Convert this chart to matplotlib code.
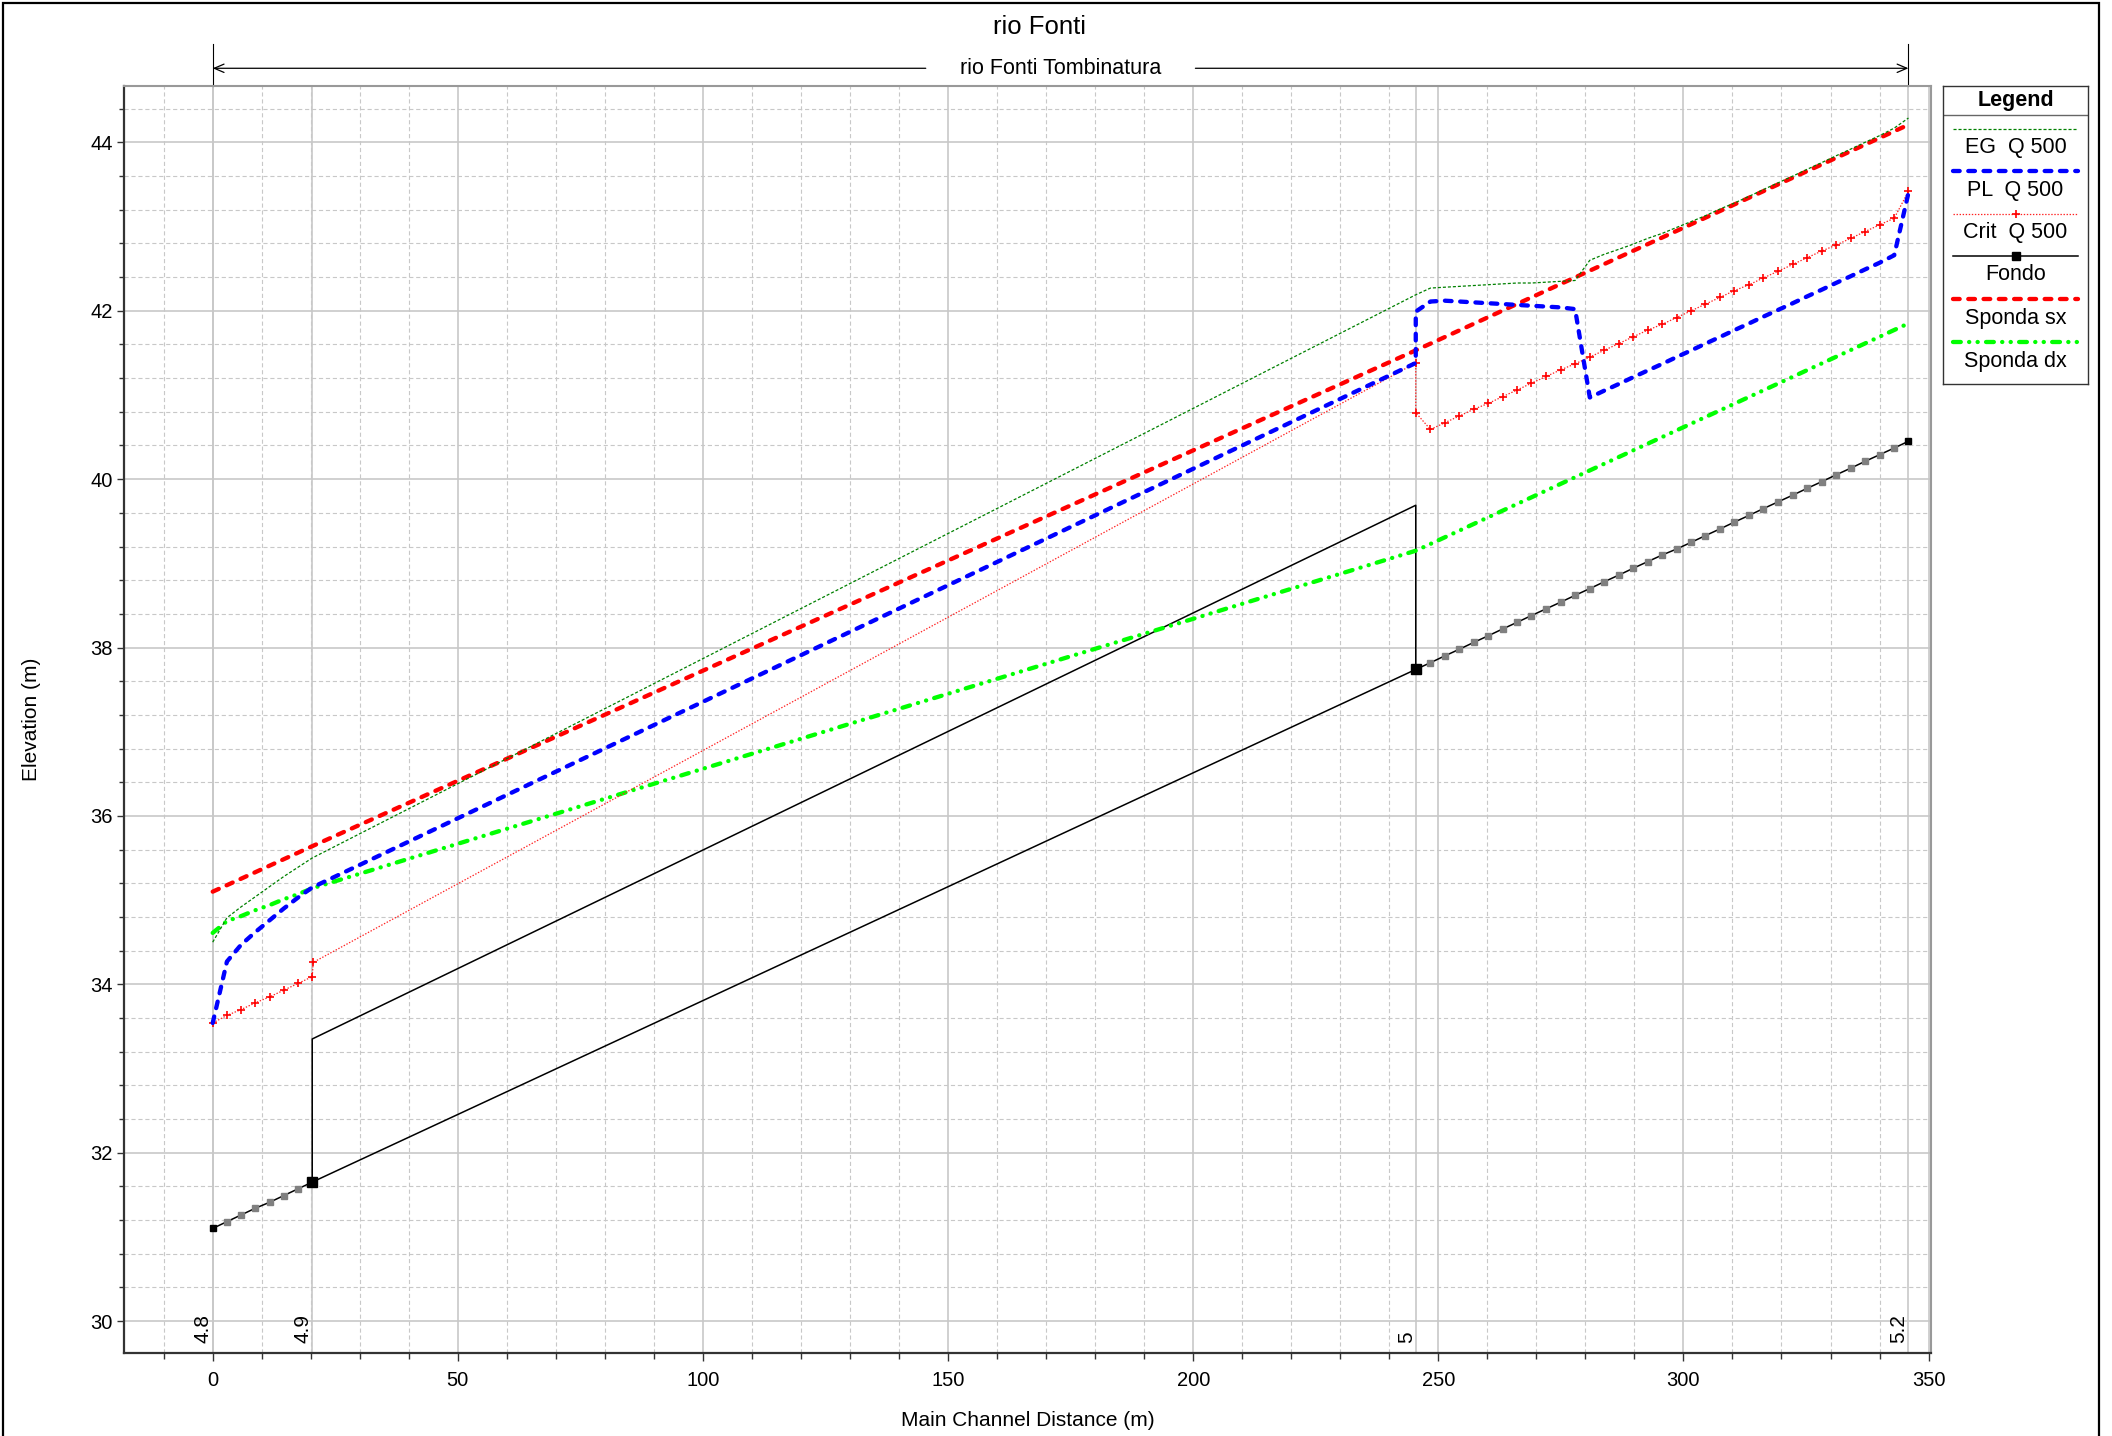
import matplotlib
matplotlib.use('Agg')
import matplotlib.pyplot as plt
from matplotlib.lines import Line2D
from matplotlib.patches import Rectangle
from matplotlib.ticker import MultipleLocator

plt.rcParams['font.family'] = ['Liberation Sans', 'DejaVu Sans']
plt.rcParams['lines.scale_dashes'] = False

# river stations (main channel distance, m)
stations = [0.0, 20.3, 245.4, 345.9]
station_labels = ['4.8', '4.9', '5', '5.2']

# sections upstream reach (4.8 -> 4.9) and downstream reach (5 -> 5.2)
x_reach1 = [0.0, 2.9, 5.8, 8.7, 11.6, 14.5, 17.4, 20.3]
x_reach2 = [245.4, 248.4, 251.3, 254.3, 257.2, 260.2, 263.1, 266.1, 269.0, 272.0,
            275.0, 277.9, 280.9, 283.8, 286.8, 289.7, 292.7, 295.7, 298.6, 301.6,
            304.5, 307.5, 310.4, 313.4, 316.3, 319.3, 322.3, 325.2, 328.2, 331.1,
            334.1, 337.0, 340.0, 343.0, 345.9]

# Fondo
bed_reach1 = [31.10, 31.18, 31.26, 31.34, 31.41, 31.49, 31.57, 31.65]
bed_reach2 = [37.74, 37.82, 37.90, 37.98, 38.06, 38.14, 38.22, 38.30, 38.38, 38.46,
              38.54, 38.62, 38.70, 38.78, 38.86, 38.94, 39.02, 39.10, 39.17, 39.25,
              39.33, 39.41, 39.49, 39.57, 39.65, 39.73, 39.81, 39.89, 39.97, 40.05,
              40.13, 40.21, 40.29, 40.37, 40.45]
culvert_x = [20.3, 20.3, 245.4, 245.4]
culvert_y = [31.65, 33.35, 39.69, 37.74]

# PL Q 500 (water surface)
ws_reach1 = [33.54, 34.27, 34.47, 34.62, 34.76, 34.90, 35.03, 35.15]
ws_culvert_out = 41.38
ws_reach2 = [41.99, 42.11, 42.12, 42.11, 42.10, 42.09, 42.08, 42.07, 42.06, 42.05,
             42.04, 42.02, 40.97, 41.05, 41.13, 41.21, 41.29, 41.37, 41.45, 41.53,
             41.61, 41.69, 41.77, 41.85, 41.93, 42.01, 42.09, 42.17, 42.25, 42.33,
             42.41, 42.49, 42.57, 42.66, 43.40]

# Crit Q 500
crit_reach1 = [33.54, 33.63, 33.70, 33.78, 33.85, 33.93, 34.01, 34.09]
crit_culvert_x = [20.5, 245.4]
crit_culvert = [34.26, 41.38]
crit_reach2 = [40.79, 40.59, 40.67, 40.75, 40.83, 40.90, 40.98, 41.06, 41.14, 41.22,
               41.30, 41.37, 41.45, 41.53, 41.61, 41.69, 41.77, 41.84, 41.92, 42.00,
               42.08, 42.16, 42.24, 42.31, 42.39, 42.47, 42.55, 42.63, 42.71, 42.78,
               42.86, 42.94, 43.02, 43.10, 43.42]

# EG Q 500
eg_reach1 = [34.50, 34.79, 34.92, 35.04, 35.16, 35.28, 35.39, 35.50]
eg_reach2 = [42.19, 42.27, 42.28, 42.29, 42.30, 42.31, 42.32, 42.33, 42.33, 42.34,
             42.35, 42.36, 42.60, 42.67, 42.73, 42.79, 42.86, 42.92, 42.99, 43.06,
             43.13, 43.21, 43.28, 43.36, 43.44, 43.52, 43.60, 43.68, 43.76, 43.84,
             43.92, 44.00, 44.08, 44.17, 44.29]

# banks
sx_bank = [35.10, 35.64, 41.53, 44.21]          # at stations
dx_reach1 = [34.61, 34.75, 34.81, 34.88, 34.94, 35.01, 35.07, 35.14]
dx_x2 = [245.4, 345.9]
dx_reach2 = [39.15, 41.85]

reach_name = 'rio Fonti Tombinatura'

eg_st = dict(color='#008000', lw=0.9, dashes=(2.2, 1.4))
pl_st = dict(color='#0000ff', lw=3.1, dashes=(4.8, 6.2), dash_capstyle='round',
             solid_joinstyle='round')
crit_st = dict(color='#ff2020', lw=0.9, dashes=(1.0, 1.2), marker='+', ms=6,
               mew=1.2, mec='#ff0000')
fondo_st = dict(color='black', lw=1.1)
sx_st = dict(color='#ff0000', lw=3.1, dashes=(4.8, 6.2), dash_capstyle='round')
dx_st = dict(color='#00ff00', lw=3.1, dashes=(5.6, 6.0, 0.1, 6.0, 0.1, 6.0),
             dash_capstyle='round')

fig = plt.figure(figsize=(21.12, 14.36), dpi=100)
ax = fig.add_axes([0.0587, 0.0578, 0.8556, 0.8823])

# grid
ax.set_axisbelow(True)
ax.xaxis.set_major_locator(MultipleLocator(50))
ax.xaxis.set_minor_locator(MultipleLocator(10))
ax.yaxis.set_major_locator(MultipleLocator(2))
ax.yaxis.set_minor_locator(MultipleLocator(0.4))
ax.grid(which='major', color='#c8c8c8', lw=1.2, ls='-')
ax.grid(which='minor', color='#c8c8c8', lw=0.8, ls=(0, (3, 2)))
for s in stations:
    ax.axvline(s, color='#c8c8c8', lw=1.2, zorder=0.6)

# Fondo
ax.plot(x_reach1 + x_reach2, bed_reach1 + bed_reach2, zorder=3, **fondo_st)
ax.plot(culvert_x, culvert_y, zorder=3, **fondo_st)
ax.plot(x_reach1[1:-1], bed_reach1[1:-1], ls='none', marker='s', ms=5,
        color='#808080', zorder=4)
ax.plot(x_reach2[1:-1], bed_reach2[1:-1], ls='none', marker='s', ms=5,
        color='#808080', zorder=4)
ax.plot([x_reach1[0], x_reach2[-1]], [bed_reach1[0], bed_reach2[-1]],
        ls='none', marker='s', ms=5, color='black', zorder=5)
ax.plot([x_reach1[-1], x_reach2[0]], [bed_reach1[-1], bed_reach2[0]],
        ls='none', marker='s', ms=6.5, color='black', zorder=5)

# banks
ax.plot(x_reach1 + dx_x2, dx_reach1 + dx_reach2, zorder=3, **dx_st)
ax.plot(stations, sx_bank, zorder=3, **sx_st)

# crit
ax.plot(x_reach1 + crit_culvert_x + x_reach2,
        crit_reach1 + crit_culvert + crit_reach2, zorder=4, **crit_st)

# water surface
ax.plot(x_reach1 + [x_reach2[0]] + x_reach2,
        ws_reach1 + [ws_culvert_out] + ws_reach2, zorder=5, **pl_st)

# energy grade
ax.plot(x_reach1 + x_reach2, eg_reach1 + eg_reach2, zorder=6, **eg_st)

ax.set_xlim(-18.1, 350.5)
ax.set_ylim(29.62, 44.67)

for sp in ['left', 'bottom']:
    ax.spines[sp].set_color('#333333')
    ax.spines[sp].set_linewidth(1.6)
for sp in ['top', 'right']:
    ax.spines[sp].set_color('#999999')
    ax.spines[sp].set_linewidth(1.5)

ax.tick_params(which='both', direction='out', color='#333333', labelsize=14.5)
ax.tick_params(axis='y', which='major', length=5, width=1, pad=3)
ax.tick_params(axis='y', which='minor', length=3.5, width=1)
ax.tick_params(axis='x', which='major', length=6, width=1, pad=7)
ax.tick_params(axis='x', which='minor', length=4.5, width=1)

ax.set_xlabel('Main Channel Distance (m)', fontsize=15)
ax.set_ylabel('Elevation (m)', fontsize=15)
ax.xaxis.set_label_coords(0.5, -0.046)
ax.yaxis.set_label_coords(-0.046, 0.5)

# station labels
xt = ax.get_xaxis_transform()
for s, lab in zip(stations, station_labels):
    ax.text(s, 0.008, lab, transform=xt, rotation=90, ha='right', va='bottom',
            fontsize=15)

# reach annotation above the plot
mid = (stations[0] + stations[-1]) / 2
ax.plot([stations[0], stations[0]], [1.0, 1.033], transform=xt, color='black',
        lw=0.8, clip_on=False)
ax.plot([stations[-1], stations[-1]], [1.0, 1.033], transform=xt, color='black',
        lw=0.8, clip_on=False)
ax.text(mid, 1.014, reach_name, transform=xt, ha='center', va='center', fontsize=15.5)
arr = dict(arrowstyle='->,head_length=0.7,head_width=0.3', lw=0.9, color='black',
           shrinkA=0, shrinkB=0)
ax.annotate('', xy=(stations[0], 1.014), xytext=(mid - 27.5, 1.014),
            xycoords=xt, textcoords=xt, arrowprops=arr, annotation_clip=False)
ax.annotate('', xy=(stations[-1], 1.014), xytext=(mid + 27.5, 1.014),
            xycoords=xt, textcoords=xt, arrowprops=arr, annotation_clip=False)

fig.text(0.4924, 0.981, 'rio Fonti', ha='center', va='center', fontsize=18.5)

# legend box
lg = fig.add_axes([1943 / 2112, 1 - 384 / 1436, 145 / 2112, 298 / 1436])
lg.set_xlim(0, 1)
lg.set_ylim(0, 1)
lg.set_xticks([])
lg.set_yticks([])
for sp in lg.spines.values():
    sp.set_color('#333333')
    sp.set_linewidth(1.0)
lg.text(0.5, 0.953, 'Legend', ha='center', va='center', fontsize=15.5,
        fontweight='bold')
lg.axhline(0.903, color='#666666', lw=1)

entries = [('EG  Q 500', eg_st), ('PL  Q 500', pl_st), ('Crit  Q 500', crit_st),
           ('Fondo', dict(fondo_st, marker='s', ms=5.5)), ('Sponda sx', sx_st),
           ('Sponda dx', dx_st)]
line_y = [0.856, 0.715, 0.570, 0.429, 0.285, 0.141]
text_y = [0.795, 0.651, 0.507, 0.366, 0.221, 0.077]
for (lab, st), ly, ty in zip(entries, line_y, text_y):
    lg.add_line(Line2D([0.069, 0.5, 0.931], [ly, ly, ly], markevery=[1], **st))
    lg.text(0.5, ty, lab, ha='center', va='center', fontsize=15.5)

# outer frame
fig.patches.append(Rectangle((3 / 2112, -0.01), 2096 / 2112, 1.01 - 3 / 1436,
                             transform=fig.transFigure, fill=False,
                             edgecolor='black', lw=1.6))

fig.savefig('out.png', dpi=100)
